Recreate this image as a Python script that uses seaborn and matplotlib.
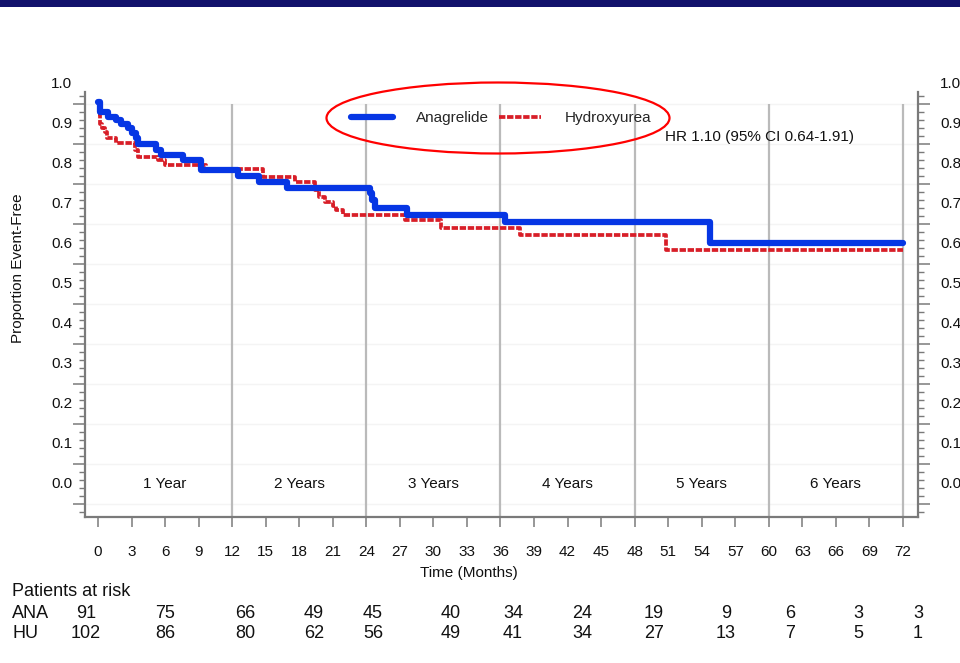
import numpy as np
import pandas as pd
import matplotlib
matplotlib.use("Agg")
import matplotlib.pyplot as plt
from matplotlib.patches import Ellipse, Rectangle
from matplotlib.ticker import FixedLocator
import seaborn as sns

# ---------------- data ----------------
ana_time = [0, 0.2, 0.9, 1.6, 2.1, 2.7, 3.0, 3.4, 3.6, 5.2, 5.6, 7.6, 9.2,
            12.5, 14.4, 16.9, 24.3, 24.5, 24.8, 27.6, 36.4, 54.7, 72]
ana_surv = [0.955, 0.93, 0.918, 0.91, 0.90, 0.89, 0.877, 0.865, 0.85, 0.835,
            0.8225, 0.81, 0.785, 0.77, 0.755, 0.74, 0.7275, 0.71, 0.69, 0.6725,
            0.655, 0.6025, 0.6025]
hu_time = [0, 0.2, 0.4, 0.6, 0.8, 1.6, 3.3, 3.6, 5.4, 6.0, 9.7, 14.8, 17.6,
           19.4, 19.8, 20.3, 21.0, 21.3, 21.9, 27.5, 30.7, 37.7, 50.8, 72]
hu_surv = [0.925, 0.90, 0.89, 0.88, 0.865, 0.8525, 0.835, 0.8175, 0.81,
           0.7975, 0.7875, 0.7675, 0.755, 0.735, 0.7175, 0.705, 0.695, 0.685,
           0.6725, 0.66, 0.64, 0.6225, 0.585, 0.585]
arm_names = ["Anagrelide", "Hydroxyurea"]
month_ticks = list(range(0, 73, 3))
year_marks = [12, 24, 36, 48, 60, 72]
year_labels = ["1 Year", "2 Years", "3 Years", "4 Years", "5 Years", "6 Years"]
year_centers = [6, 18, 30, 42, 54, 66]
y_labels = [0.0, 0.1, 0.2, 0.3, 0.4, 0.5, 0.6, 0.7, 0.8, 0.9, 1.0]
risk_rows = ["ANA", "HU"]
ana_at_risk = [91, 75, 66, 49, 45, 40, 34, 24, 19, 9, 6, 3, 3]
hu_at_risk = [102, 86, 80, 62, 56, 49, 41, 34, 27, 13, 7, 5, 1]
hr_text = "HR 1.10 (95% CI 0.64-1.91)"

# ---------------- layout ----------------
W, H = 960, 663
risk_col_px = [86, 165, 245, 314, 373, 451, 513, 582, 654, 726, 790, 858, 918]

sns.set_style("white")
plt.rcParams["font.family"] = ["Liberation Sans", "DejaVu Sans"]

BLUE = "#0636e4"
RED = "#d81e28"
GREY = "#7a7a7a"

df_ana = pd.DataFrame({"Time": ana_time, "Surv": ana_surv})
df_hu = pd.DataFrame({"Time": hu_time, "Surv": hu_surv})

fig = plt.figure(figsize=(W / 100, H / 100), dpi=100)
ax = fig.add_axes([85 / W, 1 - 517 / H, (918 - 85) / W, (517 - 92) / H])

ax.set_xlim(-1.16, 73.34)
ax.set_ylim(-0.0825, 0.98)

# year separator lines
ax.vlines(year_marks, -0.0825, 0.95, color="#bababa", lw=1.6, zorder=1)

sns.lineplot(data=df_hu, x="Time", y="Surv", ax=ax, color=RED, lw=2.7,
             drawstyle="steps-post", estimator=None, sort=False,
             linestyle=(0, (1.7, 0.45)), label=arm_names[1], zorder=3)
sns.lineplot(data=df_ana, x="Time", y="Surv", ax=ax, color=BLUE, lw=4.5,
             drawstyle="steps-post", estimator=None, sort=False,
             label=arm_names[0], zorder=4)

# axes styling
for s in ["left", "right", "bottom"]:
    ax.spines[s].set_visible(True)
    ax.spines[s].set_color(GREY)
    ax.spines[s].set_linewidth(1.6)
ax.spines["top"].set_visible(False)

ax.yaxis.set_major_locator(FixedLocator(np.round(np.arange(-0.05, 1.0, 0.1), 3)))
ax.yaxis.set_minor_locator(FixedLocator(np.round(np.arange(-0.07, 0.98, 0.02), 3)))
ax.tick_params(axis="y", which="major", length=8.6, width=1.1, color=GREY,
               left=True, right=True, labelleft=False, labelright=False, direction="out")
ax.tick_params(axis="y", which="minor", length=4.3, width=1.0, color=GREY,
               left=True, right=True, direction="out")
ax.grid(axis="y", which="major", color="#f4f4f4", lw=1.0)
ax.grid(axis="x", visible=False)

ax.set_xticks(month_ticks)
ax.set_xticklabels([str(m) for m in month_ticks])
ax.tick_params(axis="x", which="major", length=7.2, width=1.1, color=GREY,
               pad=13, labelsize=11, labelcolor="#111111", direction="out", bottom=True)
ax.set_xlabel("")
ax.set_ylabel("")

# y labels (both sides)
ytr = ax.get_yaxis_transform()
for v in y_labels:
    ax.text(-13 / 833, v, f"{v:.1f}", transform=ytr, ha="right", va="center",
            fontsize=11, color="#111111", clip_on=False)
    ax.text(1 + 22 / 833, v, f"{v:.1f}", transform=ytr, ha="left", va="center",
            fontsize=11, color="#111111", clip_on=False)

# year labels
for c, lab in zip(year_centers, year_labels):
    ax.text(c, 0.0, lab, ha="center", va="center", fontsize=11, color="#111111")

# legend + ellipse
handles, labels = ax.get_legend_handles_labels()
order = [labels.index(n) for n in arm_names]
ax.legend([handles[i] for i in order], [labels[i] for i in order], ncol=2,
          loc="center", bbox_to_anchor=(501 / W, 1 - 118 / H),
          bbox_transform=fig.transFigure, frameon=False, fontsize=11,
          handlelength=2.75, handletextpad=1.55, columnspacing=0.65,
          borderpad=0, borderaxespad=0)
fig.add_artist(Ellipse((498 / W, 1 - 118 / H), 343 / W, 71 / H,
                       transform=fig.transFigure, fill=False, ec="#ff0000", lw=1.6))

fig.text(665 / W, 1 - 137 / H, hr_text, ha="left", va="center", fontsize=11, color="#111111")

# axis titles
fig.text(18 / W, 1 - 268 / H, "Proportion Event-Free", rotation=90,
         ha="center", va="center", fontsize=11, color="#111111")
fig.text(469 / W, 1 - 573 / H, "Time (Months)", ha="center", va="center",
         fontsize=11, color="#111111")

# patients at risk table
fig.text(12 / W, 1 - 591 / H, "Patients at risk", ha="left", va="center",
         fontsize=13, color="#111111")
for row, vals, ypx in zip(risk_rows, [ana_at_risk, hu_at_risk], [613, 634]):
    fig.text(12 / W, 1 - ypx / H, row, ha="left", va="center", fontsize=13, color="#111111")
    for xp, v in zip(risk_col_px, vals):
        fig.text(xp / W, 1 - ypx / H, str(v), ha="center", va="center",
                 fontsize=13, color="#111111")

# top banner
fig.add_artist(Rectangle((0, 1 - 7 / H), 1, 7 / H, transform=fig.transFigure,
                         color="#12126c", lw=0))

fig.savefig("out.png", dpi=100)
